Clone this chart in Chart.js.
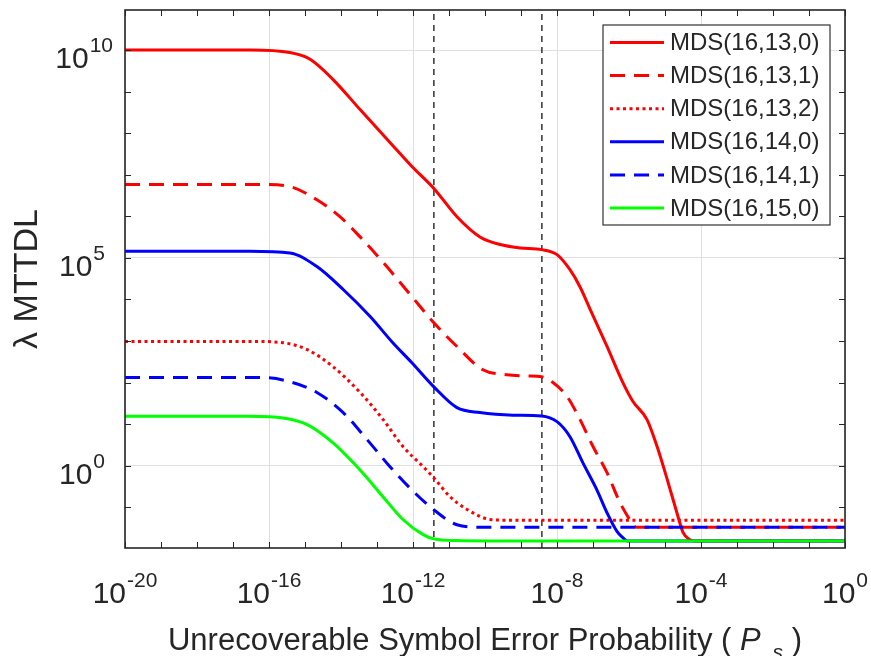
<!DOCTYPE html>
<html>
<head>
<meta charset="utf-8">
<script src="https://cdn.jsdelivr.net/npm/chart.js@4.4.1/dist/chart.umd.min.js"></script>
<style>
  html, body { margin: 0; padding: 0; background: #fff; }
  canvas { display: block; }
</style>
</head>
<body>
<canvas id="chart" width="871" height="656"></canvas>
<script>
// values
var ps_13_0    = [1e-20, 2.95e-17, 3.8e-16, 1.38e-15, 6.03e-15, 3.39e-14, 2.29e-13, 9.33e-13, 3.8e-12, 1.66e-11, 7.24e-11, 2.63e-10, 9.33e-10, 3.72e-9, 1e-8, 2.29e-8, 4.37e-8, 8.32e-8, 2.45e-7, 6.76e-7, 1.29e-6, 3.16e-6, 6.03e-6, 1.15e-5, 2.14e-5, 3.16e-5, 4.9e-5, 7e-5, 1];
var mttdl_13_0 = [1e10, 1e10, 8.7e9, 6.0e9, 1.95e9, 3.7e8, 6.0e7, 1.58e7, 4.7e6, 9.8e5, 3.2e5, 2.1e5, 1.74e5, 1.58e5, 1.2e5, 5.2e4, 2.0e4, 5.8e3, 740, 100, 35, 12.9, 2.9, 0.47, 0.074, 0.025, 0.0166, 0.0155, 0.0155];

var ps_13_1    = [1e-20, 6.76e-17, 3.8e-16, 2.14e-15, 9.33e-15, 3.39e-14, 1.48e-13, 9.33e-13, 3.8e-12, 1.66e-11, 8.71e-11, 4.07e-10, 1.48e-9, 3.72e-9, 7.24e-9, 1.91e-8, 4.37e-8, 1e-7, 2.45e-7, 5.62e-7, 1.2e-6, 1.6e-6, 1];
var mttdl_13_1 = [5.8e6, 5.8e6, 5.2e6, 2.5e6, 9.8e5, 3.2e5, 7.8e4, 1.17e4, 2.75e3, 740, 204, 155, 145, 138, 105, 46, 12.9, 2.9, 0.68, 0.13, 0.043, 0.033, 0.033];

var ps_13_2    = [1e-20, 2.95e-17, 2.45e-16, 1.15e-15, 6.03e-15, 3.39e-14, 1.48e-13, 5.25e-13, 1.91e-12, 3.8e-12, 1.07e-11, 3.16e-11, 1.38e-10, 4e-10, 1];
var mttdl_13_2 = [980, 980, 910, 620, 240, 58, 12.9, 2.9, 0.95, 0.51, 0.18, 0.089, 0.051, 0.049, 0.049];

var ps_14_0    = [1e-20, 2.95e-17, 3.8e-16, 2.14e-15, 1.15e-14, 6.46e-14, 2.75e-13, 9.33e-13, 3.8e-12, 1.66e-11, 7.24e-11, 6.03e-10, 3.72e-9, 1e-8, 2.29e-8, 5.25e-8, 1.29e-7, 2.45e-7, 4.68e-7, 6.76e-7, 9e-7, 1];
var mttdl_14_0 = [1.45e5, 1.45e5, 1.32e5, 6.2e4, 1.74e4, 3.9e3, 910, 300, 79, 25, 19, 16.5, 15.8, 11.5, 5.0, 1.17, 0.26, 0.074, 0.026, 0.0186, 0.0155, 0.0155];

var ps_14_1    = [1e-20, 6.76e-17, 3.8e-16, 2.14e-15, 1.15e-14, 5.25e-14, 2.29e-13, 9.33e-13, 3.8e-12, 1.66e-11, 8.71e-11, 1];
var mttdl_14_1 = [132, 132, 105, 58, 19, 4.3, 0.95, 0.26, 0.087, 0.038, 0.033, 0.033];

var ps_15_0    = [1e-20, 2.95e-17, 2.45e-16, 1.15e-15, 6.03e-15, 3.39e-14, 1.48e-13, 5.25e-13, 1.91e-12, 3.8e-12, 1.66e-11, 1.38e-10, 1];
var mttdl_15_0 = [15.5, 15.5, 14.1, 9.8, 3.55, 0.79, 0.178, 0.051, 0.022, 0.0174, 0.0158, 0.0155, 0.0155];

var seriesLabels = ['MDS(16,13,0)', 'MDS(16,13,1)', 'MDS(16,13,2)', 'MDS(16,14,0)', 'MDS(16,14,1)', 'MDS(16,15,0)'];
var refPs = [3.8e-12, 3.8e-9];

var xTickExps = [-20, -16, -12, -8, -4, 0];
var yTickExps = [0, 5, 10];

var X_MIN = 1e-20, X_MAX = 1;
var Y_MIN = 0.0105, Y_MAX = 9.2e10;

var FONT = '"Liberation Sans", Arial, Helvetica, sans-serif';
var INK = '#262626';

function pts(xs, ys) {
    return xs.map(function (v, i) { return { x: v, y: ys[i] }; });
}

function curve(label, xs, ys, color, dash, order) {
    return {
        label: label,
        data: pts(xs, ys),
        borderColor: color,
        borderWidth: 3,
        borderDash: dash,
        pointRadius: 0,
        fill: false,
        cubicInterpolationMode: 'monotone',
        order: order
    };
}

var datasets = [
    curve(seriesLabels[0], ps_13_0, mttdl_13_0, '#ff0000', [], 6),
    curve(seriesLabels[1], ps_13_1, mttdl_13_1, '#ff0000', [15, 9], 5),
    curve(seriesLabels[2], ps_13_2, mttdl_13_2, '#ff0000', [3, 3.5], 4),
    curve(seriesLabels[3], ps_14_0, mttdl_14_0, '#0000ff', [], 3),
    curve(seriesLabels[4], ps_14_1, mttdl_14_1, '#0000ff', [15, 9], 2),
    curve(seriesLabels[5], ps_15_0, mttdl_15_0, '#00ff00', [], 1)
];
refPs.forEach(function (v) {
    datasets.push({
        data: [{ x: v, y: Y_MIN }, { x: v, y: Y_MAX }],
        borderColor: '#333333',
        borderWidth: 1.5,
        borderDash: [6, 5],
        pointRadius: 0,
        order: 10
    });
});

// "10" with a raised exponent
function drawPower(ctx, exp, x, baseY, align) {
    ctx.font = '30px ' + FONT;
    var wb = ctx.measureText('10').width;
    ctx.font = '21px ' + FONT;
    var we = ctx.measureText(exp).width;
    var total = wb + 1 + we;
    var x0 = align === 'center' ? x - total / 2 : x - total;
    ctx.textAlign = 'left';
    ctx.textBaseline = 'alphabetic';
    ctx.fillStyle = INK;
    ctx.font = '30px ' + FONT;
    ctx.fillText('10', x0, baseY);
    ctx.font = '21px ' + FONT;
    ctx.fillText(exp, x0 + wb + 1, baseY - 16);
}

var axesDecor = {
    id: 'axesDecor',
    afterDatasetsDraw: function (chart) {
        var ctx = chart.ctx, a = chart.chartArea;
        var xs = chart.scales.x, ys = chart.scales.y;
        ctx.save();
        ctx.setLineDash([]);
        // inward tick marks at every decade
        ctx.strokeStyle = INK;
        ctx.lineWidth = 1;
        ctx.beginPath();
        for (var e = -20; e <= 0; e++) {
            var px = Math.round(xs.getPixelForValue(Math.pow(10, e))) + 0.5;
            ctx.moveTo(px, a.bottom); ctx.lineTo(px, a.bottom - 6);
            ctx.moveTo(px, a.top); ctx.lineTo(px, a.top + 6);
        }
        for (var k = -1; k <= 10; k++) {
            var py = Math.round(ys.getPixelForValue(Math.pow(10, k))) + 0.5;
            ctx.moveTo(a.left, py); ctx.lineTo(a.left + 6, py);
            ctx.moveTo(a.right, py); ctx.lineTo(a.right - 6, py);
        }
        ctx.stroke();
        // box
        ctx.lineWidth = 1.6;
        ctx.strokeRect(a.left, a.top, a.right - a.left, a.bottom - a.top);

        // legend inside the axes, top right
        var lx = a.right - 242, ly = a.top + 15, lw = 227, lh = 200;
        ctx.fillStyle = '#ffffff';
        ctx.fillRect(lx, ly, lw, lh);
        ctx.strokeStyle = '#333333';
        ctx.lineWidth = 1.2;
        ctx.strokeRect(lx, ly, lw, lh);
        ctx.font = '24px ' + FONT;
        ctx.textAlign = 'left';
        ctx.textBaseline = 'middle';
        chart.data.datasets.filter(function (d) { return d.label; }).forEach(function (d, i) {
            var cy = ly + 17.5 + i * 33.1;
            ctx.strokeStyle = d.borderColor;
            ctx.lineWidth = 3;
            ctx.setLineDash(d.borderDash || []);
            ctx.beginPath();
            ctx.moveTo(lx + 7, cy); ctx.lineTo(lx + 61, cy);
            ctx.stroke();
            ctx.setLineDash([]);
            ctx.fillStyle = INK;
            ctx.fillText(d.label, lx + 67, cy + 1);
        });
        ctx.restore();
    },
    afterDraw: function (chart) {
        var ctx = chart.ctx, a = chart.chartArea;
        var xs = chart.scales.x, ys = chart.scales.y;
        ctx.save();
        xTickExps.forEach(function (e) {
            drawPower(ctx, String(e), xs.getPixelForValue(Math.pow(10, e)), a.bottom + 55, 'center');
        });
        yTickExps.forEach(function (e) {
            var s = String(e);
            drawPower(ctx, s, s.length > 1 ? a.left - 12 : a.left - 20, ys.getPixelForValue(Math.pow(10, e)) + 18, 'right');
        });

        // x title with italic P and subscript s
        var p1 = 'Unrecoverable Symbol Error Probability ( ', p2 = ' )';
        ctx.font = '31px ' + FONT;
        var w1 = ctx.measureText(p1).width, w2 = ctx.measureText(p2).width;
        ctx.font = 'italic 31px ' + FONT;
        var wP = ctx.measureText('P').width;
        ctx.font = 'italic 21px ' + FONT;
        var wS = ctx.measureText('s').width;
        var gap = 12;
        var total = w1 + wP + gap + wS + w2;
        var x0 = (a.left + a.right) / 2 - total / 2, by = 650;
        ctx.fillStyle = INK;
        ctx.textAlign = 'left';
        ctx.textBaseline = 'alphabetic';
        ctx.font = '31px ' + FONT;
        ctx.fillText(p1, x0, by);
        ctx.font = 'italic 31px ' + FONT;
        ctx.fillText('P', x0 + w1, by);
        ctx.font = 'italic 21px ' + FONT;
        ctx.fillText('s', x0 + w1 + wP + gap, by + 9);
        ctx.font = '31px ' + FONT;
        ctx.fillText(p2, x0 + w1 + wP + gap + wS, by);

        // y title
        ctx.translate(37, (a.top + a.bottom) / 2);
        ctx.rotate(-Math.PI / 2);
        ctx.textAlign = 'center';
        ctx.font = '34px ' + FONT;
        ctx.fillText('\u03bb MTTDL', 0, 0);
        ctx.restore();
    }
};

var ctx = document.getElementById('chart').getContext('2d');
var chart = new Chart(ctx, {
    type: 'line',
    data: { datasets: datasets },
    options: {
        responsive: false,
        animation: false,
        layout: { padding: { top: 10, right: 26, left: 0, bottom: 0 } },
        plugins: {
            legend: { display: false },
            tooltip: { enabled: false }
        },
        scales: {
            x: {
                type: 'logarithmic',
                min: X_MIN,
                max: X_MAX,
                afterBuildTicks: function (s) {
                    s.ticks = xTickExps.map(function (e) { return { value: Math.pow(10, e) }; });
                },
                afterFit: function (s) { s.height = 108; },
                ticks: { display: false },
                grid: { color: '#e0e0e0', lineWidth: 1, drawTicks: false },
                border: { display: false }
            },
            y: {
                type: 'logarithmic',
                min: Y_MIN,
                max: Y_MAX,
                afterBuildTicks: function (s) {
                    s.ticks = yTickExps.map(function (e) { return { value: Math.pow(10, e) }; });
                },
                afterFit: function (s) { s.width = 125; },
                ticks: { display: false },
                grid: { color: '#e0e0e0', lineWidth: 1, drawTicks: false },
                border: { display: false }
            }
        }
    },
    plugins: [axesDecor]
});
</script>
</body>
</html>
